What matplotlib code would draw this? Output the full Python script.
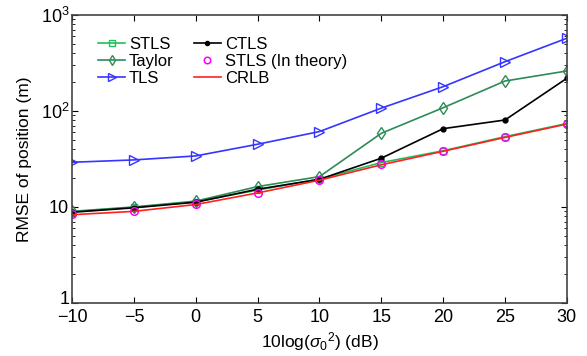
import matplotlib
matplotlib.use('Agg')
import matplotlib.pyplot as plt
import matplotlib.transforms as mtransforms
from matplotlib.ticker import FixedLocator, LogLocator, NullFormatter

plt.rcParams['font.family'] = ['Liberation Sans', 'DejaVu Sans']
plt.rcParams['mathtext.fontset'] = 'custom'
plt.rcParams['mathtext.rm'] = 'Liberation Sans'
plt.rcParams['mathtext.it'] = 'Liberation Sans:italic'

snr_db = [-10, -5, 0, 5, 10, 15, 20, 25, 30]
stls = [8.9, 9.9, 11.3, 15.0, 19.5, 29.0, 38.5, 54, 74]
taylor = [9.0, 10.0, 11.5, 16.3, 20.7, 58.5, 108, 205, 261]
tls = [29.2, 30.9, 34.0, 45.0, 61.0, 107, 179, 326, 572]
ctls = [8.8, 9.8, 11.2, 15.3, 19.4, 32.2, 65.4, 80.5, 219]
stls_theory = [8.5, 9.1, 10.8, 14.0, 19.3, 27.8, 38.3, 54, 74]
crlb = [8.3, 9.0, 10.6, 14.0, 19.0, 27.5, 38.0, 53, 73]

fig = plt.figure(figsize=(5.87, 3.56), dpi=100)
ax = fig.add_axes([0.1227, 0.149, 0.843, 0.809])

ax.plot(snr_db, stls, color='#1fbf5f', marker='s', mfc='none', ms=5, lw=1.2, label='STLS')
ax.plot(snr_db, taylor, color='#2e8b57', marker='d', mfc='none', ms=6, lw=1.2, label='Taylor')
ax.plot(snr_db, tls, color='#3535ff', marker='>', mfc='none', ms=7, lw=1.2, label='TLS')
ax.plot(snr_db, ctls, color='black', marker='o', ms=3.5, lw=1.2, label='CTLS')
ax.plot(snr_db, stls_theory, color='#ff00ff', marker='o', mfc='none', ls='none', ms=5.5, mew=1.1,
        label='STLS (In theory)')
ax.plot(snr_db, crlb, color='#ff2020', lw=1.2, label='CRLB')

ax.set_yscale('log')
ax.set_xlim(-10, 30)
ax.set_ylim(1, 1000)
ax.set_xticks(snr_db)
ax.set_xticklabels(['\u221210', '\u22125', '0', '5', '10', '15', '20', '25', '30'])
ax.yaxis.set_major_locator(FixedLocator([1, 10, 100, 1000]))
ax.set_yticklabels(['1', '10', '$10^2$', '$10^3$'])
ax.yaxis.set_minor_locator(LogLocator(base=10, subs=range(2, 10)))
ax.yaxis.set_minor_formatter(NullFormatter())

ax.tick_params(which='both', direction='in', top=True, right=True, labelsize=13)
ax.tick_params(axis='x', pad=4.5)
ax.tick_params(axis='y', pad=2)
ax.tick_params(which='major', length=4)
ax.tick_params(which='minor', length=2)
for s in ax.spines.values():
    s.set_color('#444444')
    s.set_linewidth(1.2)

# lift the "1" label a little so it sits above the -10 label
lift = mtransforms.ScaledTranslation(0, 4 / 72, fig.dpi_scale_trans)
lbl1 = ax.get_yticklabels()[0]
lbl1.set_transform(lbl1.get_transform() + lift)

ax.set_xlabel(r'10log($\sigma_0$$^2$) (dB)', fontsize=12.5, labelpad=3)
ax.set_ylabel('RMSE of position (m)', fontsize=12.5, labelpad=6)

ax.legend(ncol=2, loc='upper left', bbox_to_anchor=(0.053, 0.925), frameon=False, fontsize=12,
          handlelength=1.6, handletextpad=0.25, labelspacing=0.12, columnspacing=1.2,
          borderaxespad=0, borderpad=0, markerscale=0.85)

fig.savefig('out.png', dpi=100)
